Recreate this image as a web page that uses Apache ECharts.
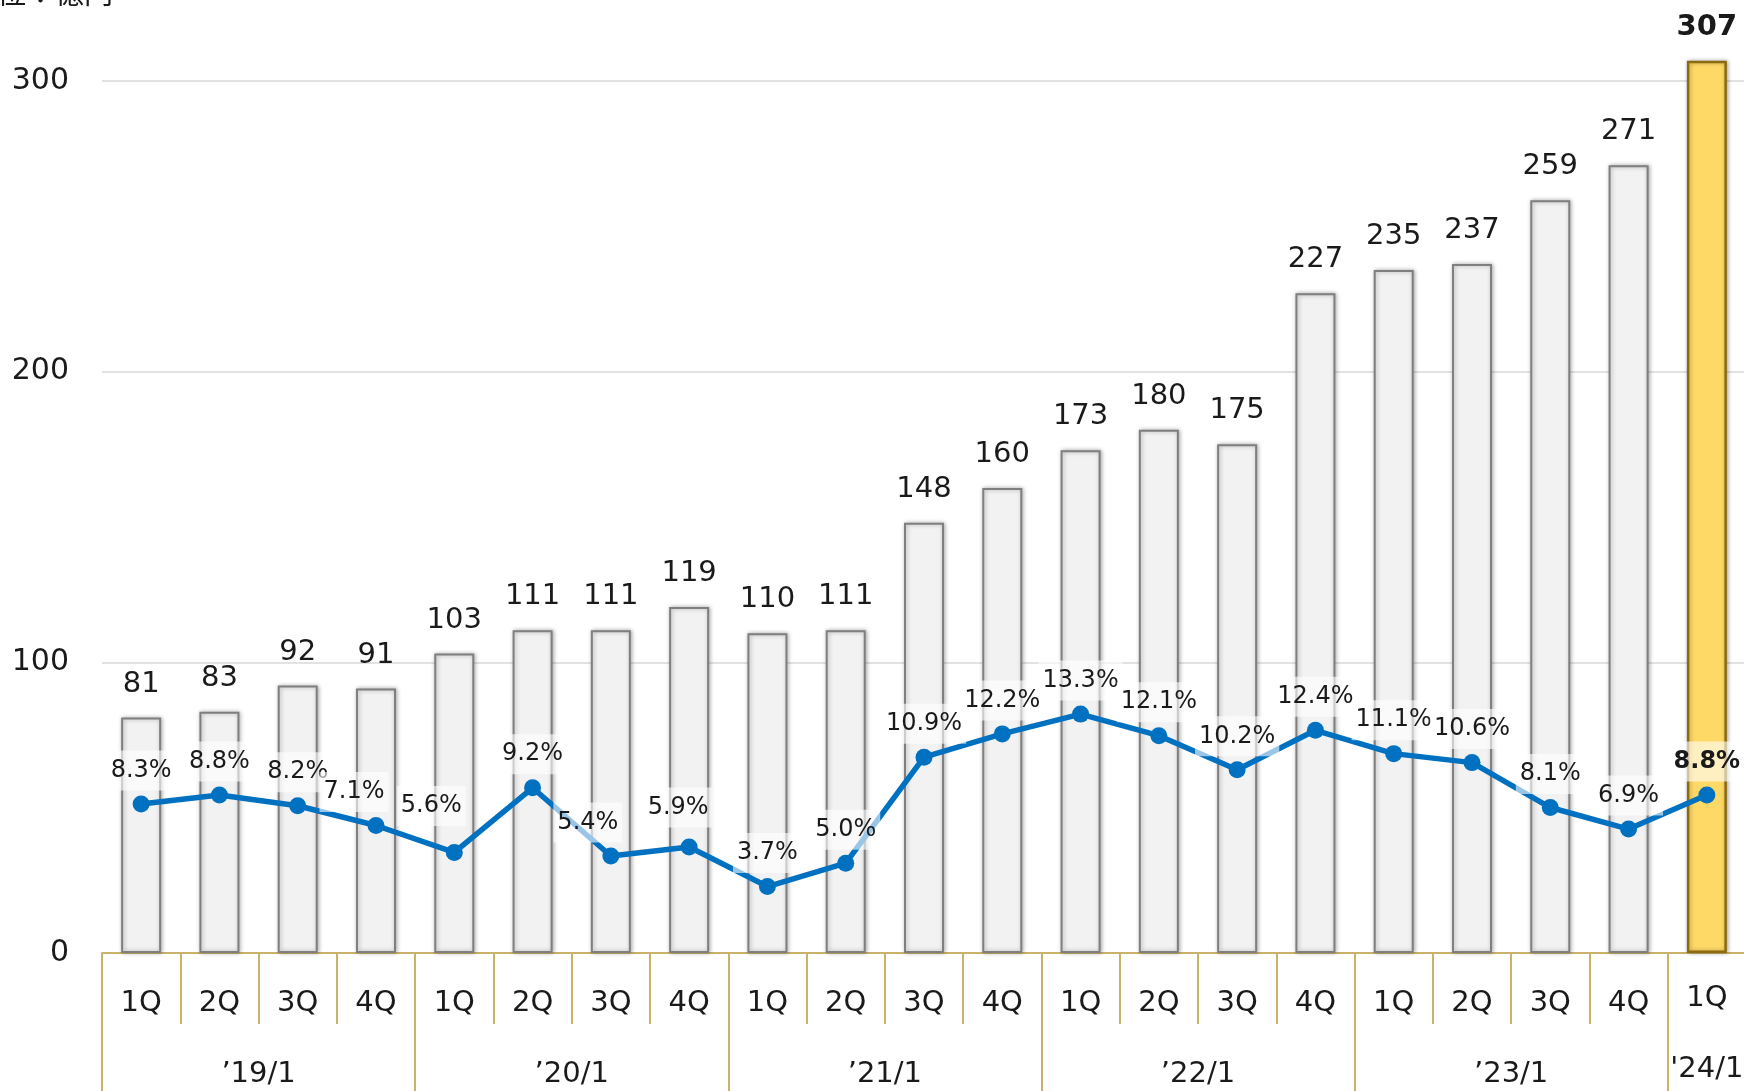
<!DOCTYPE html>
<html>
<head>
<meta charset="utf-8">
<script src="https://cdn.jsdelivr.net/npm/echarts@6/dist/echarts.min.js"></script>
<style>
  html, body { margin: 0; padding: 0; background: #fff; }
  #main { width: 1744px; height: 1091px; }
</style>
</head>
<body>
<div id="main"></div>
<script>
// 四半期 / 年度
var quarters = ['1Q','2Q','3Q','4Q','1Q','2Q','3Q','4Q','1Q','2Q','3Q','4Q','1Q','2Q','3Q','4Q','1Q','2Q','3Q','4Q','1Q'];
var years = ['’19/1','’20/1','’21/1','’22/1','’23/1','\'24/1'];
var yearQuarters = [4, 4, 4, 4, 4, 1];
// 金額（億円）・比率（%）
var amounts = [81, 83, 92, 91, 103, 111, 111, 119, 110, 111, 148, 160, 173, 180, 175, 227, 235, 237, 259, 271, 307];
var ratios = [8.3, 8.8, 8.2, 7.1, 5.6, 9.2, 5.4, 5.9, 3.7, 5.0, 10.9, 12.2, 13.3, 12.1, 10.2, 12.4, 11.1, 10.6, 8.1, 6.9, 8.8];
var yTicks = [0, 100, 200, 300];

var FONT = '"DejaVu Sans", Verdana, "Noto Sans CJK JP", sans-serif';
var GOLD = '#CBB26A';
var last = amounts.length - 1;
// 最新期のラベルは少し上
var raised = { lineHeight: 18 };

// 年度軸：半四半期刻み（境界に目盛、中央にラベル）
var yearAxisData = [], yearTickIdx = {};
var pos = 0;
years.forEach(function(y, i) {
	var n = yearQuarters[i];
	yearTickIdx[pos * 2] = true;
	for (var k = 0; k < n * 2; k++) {
		if (k !== n) yearAxisData.push('');
		else if (i === years.length - 1) yearAxisData.push({ value: y, textStyle: raised });
		else yearAxisData.push(y);
	}
	pos += n;
});
yearAxisData.push('');
yearTickIdx[pos * 2] = true;

var quarterData = quarters.map(function(q, i) {
	if (i === last) return { value: q, textStyle: raised };
	return q;
});

var barData = amounts.map(function(v, i) {
	if (i === last) {
		return {
			value: v,
			itemStyle: { color: '#FFD966', borderColor: '#8C6B10', borderWidth: 2.5 },
			label: { fontWeight: 'bold' }
		};
	}
	return v;
});

// ラベルの微調整
var shift = { 3: [-22, 0], 4: [-23, -13], 6: [-23, 0], 7: [-11, -6] };
var lineData = ratios.map(function(v, i) {
	var item = { value: v };
	if (shift[i]) item.label = { offset: shift[i] };
	if (i === last) item.label = { fontWeight: 'bold' };
	return item;
});

var chart = echarts.init(document.getElementById('main'));
chart.setOption({
	backgroundColor: '#fff',
	animation: false,
	textStyle: { fontFamily: FONT },
	grid: { left: 102, right: -2, top: 81, bottom: 138, outerBoundsMode: 'none' },
	graphic: [{
		type: 'text',
		left: -32, top: -22,
		style: { text: '単位：億円', font: '29px "Noto Sans CJK JP", sans-serif', fill: '#1a1a1a' }
	}],
	xAxis: [{
		type: 'category',
		data: quarterData,
		boundaryGap: true,
		axisLine: { lineStyle: { color: GOLD, width: 2 } },
		axisTick: { show: true, interval: 0, length: 71, lineStyle: { color: GOLD, width: 2 } },
		axisLabel: { interval: 0, margin: 36, fontSize: 29, color: '#1a1a1a', fontFamily: FONT }
	}, {
		type: 'category',
		position: 'bottom',
		data: yearAxisData,
		boundaryGap: false,
		axisLine: { show: false },
		axisTick: {
			show: true, length: 140,
			interval: function(index) { return !!yearTickIdx[index]; },
			lineStyle: { color: GOLD, width: 2 }
		},
		axisLabel: { interval: 0, margin: 107, fontSize: 29, color: '#1a1a1a', fontFamily: FONT },
		splitLine: { show: false }
	}],
	yAxis: [{
		type: 'value',
		min: yTicks[0], max: yTicks[yTicks.length - 1], interval: 100,
		axisLine: { show: false },
		axisTick: { show: false },
		axisLabel: { margin: 33, fontSize: 30, color: '#1a1a1a', fontFamily: FONT },
		splitLine: { lineStyle: { color: '#D9D9D9', width: 1.5 } }
	}, {
		type: 'value',
		show: false,
		min: 0, max: 48.55,
		splitLine: { show: false }
	}],
	series: [{
		name: '金額',
		type: 'bar',
		data: barData,
		barWidth: 40,
		clip: false,
		itemStyle: {
			color: '#F2F2F2',
			borderColor: '#7F7F7F',
			borderWidth: 2,
			shadowBlur: 4,
			shadowColor: 'rgba(0,0,0,0.3)',
			shadowOffsetX: 1
		},
		label: {
			show: true, position: 'top', distance: 19,
			fontSize: 29, color: '#1a1a1a', fontFamily: FONT
		}
	}, {
		name: '比率',
		type: 'line',
		yAxisIndex: 1,
		data: lineData,
		symbol: 'circle',
		symbolSize: 17,
		lineStyle: { color: '#0070C0', width: 5.5 },
		itemStyle: { color: '#0070C0' },
		label: {
			show: true, position: 'top', distance: 5,
			fontSize: 24, color: '#1a1a1a', fontFamily: FONT,
			backgroundColor: 'rgba(255,255,255,0.6)',
			padding: [8, 4],
			formatter: function(p) { return p.value.toFixed(1) + '%'; }
		}
	}]
});
</script>
</body>
</html>
